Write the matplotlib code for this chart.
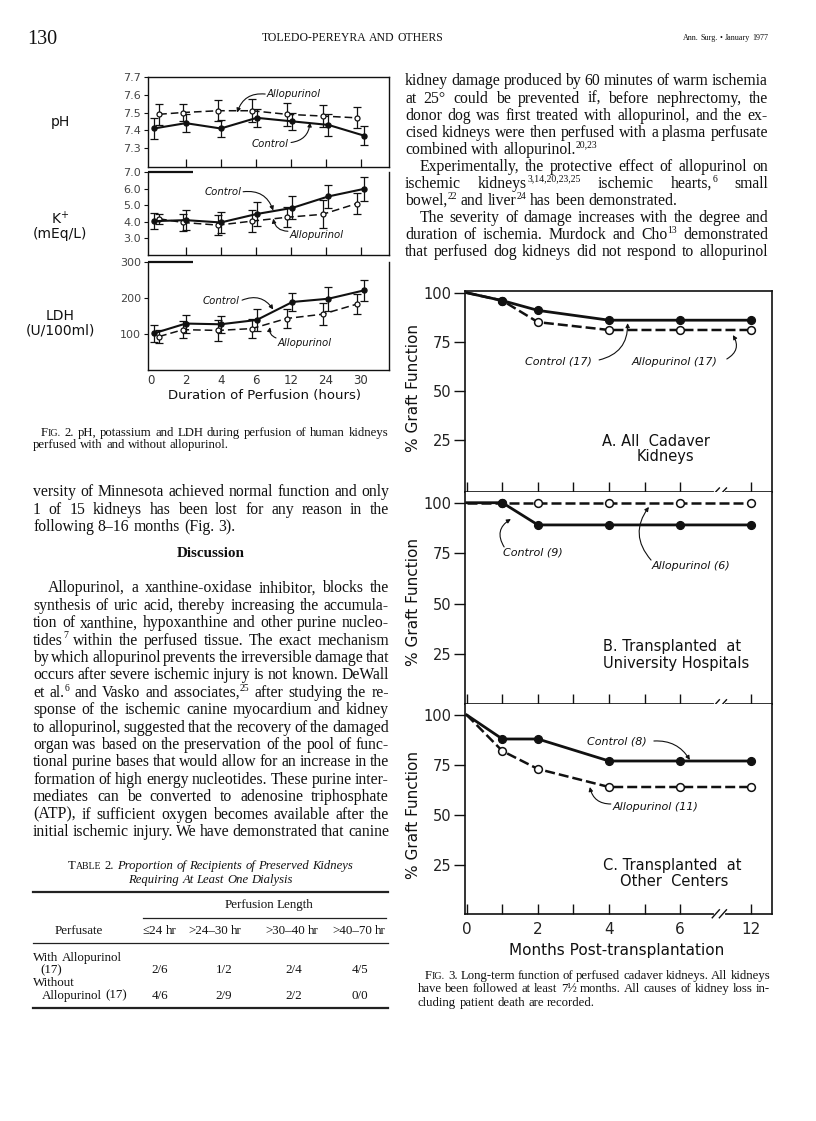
import matplotlib
matplotlib.use('Agg')
import matplotlib.pyplot as plt
from matplotlib.lines import Line2D
import numpy as np

# ---------------- data ----------------
HOURS = ['0', '2', '4', '6', '12', '24', '30']
PH_CTRL = [7.41, 7.44, 7.41, 7.47, 7.45, 7.43, 7.37]
PH_CTRL_ERR = [0.06, 0.05, 0.05, 0.05, 0.05, 0.06, 0.055]
PH_ALLO = [7.49, 7.50, 7.51, 7.51, 7.49, 7.48, 7.47]
PH_ALLO_ERR = [0.06, 0.05, 0.06, 0.065, 0.065, 0.06, 0.06]
K_CTRL = [4.04, 4.10, 3.96, 4.47, 4.84, 5.53, 5.98]
K_CTRL_ERR = [0.5, 0.6, 0.65, 0.7, 0.7, 0.7, 0.7]
K_ALLO = [4.18, 3.96, 3.80, 4.04, 4.27, 4.45, 5.10]
K_ALLO_ERR = [0.3, 0.5, 0.6, 0.65, 0.6, 0.85, 0.65]
LDH_CTRL = [102, 129, 127, 139, 189, 198, 221]
LDH_CTRL_ERR = [24, 25, 23, 31, 24, 33, 30]
LDH_ALLO = [93, 112, 110, 115, 143, 155, 183]
LDH_ALLO_ERR = [17, 24, 29, 27, 27, 30, 28]

MONTHS = [0, 1, 2, 4, 6, 12]
A_CTRL = [100, 96, 91, 86, 86, 86]
A_ALLO = [100, 96, 85, 81, 81, 81]
B_CTRL = [100, 100, 89, 89, 89, 89]
B_ALLO = [100, 100, 100, 100, 100, 100]
C_CTRL = [100, 88, 88, 77, 77, 77]
C_ALLO = [100, 82, 73, 64, 64, 64]
MONTH_LABELS = ['0', '', '2', '', '4', '', '6', '12']

TBL_COLS = ['≤24 hr', '>24–30 hr', '>30–40 hr', '>40–70 hr']
TBL_ROWS = [('With Allopurinol', '(17)'), ('Without', 'Allopurinol (17)')]
TBL_VALUES = [['2/6', '1/2', '2/4', '4/5'], ['4/6', '2/9', '2/2', '0/0']]

RIGHT_TEXT = [
    ("kidney damage produced by 60 minutes of warm ischemia", 0, True),
    ("at 25° could be prevented if, before nephrectomy, the", 0, True),
    ("donor dog was first treated with allopurinol, and the ex-", 0, True),
    ("cised kidneys were then perfused with a plasma perfusate", 0, True),
    ("combined with allopurinol.^20,23", 0, False),
    ("Experimentally, the protective effect of allopurinol on", 15, True),
    ("ischemic kidneys^3,14,20,23,25 ischemic hearts,^6 small", 0, True),
    ("bowel,^22 and liver^24 has been demonstrated.", 0, False),
    ("The severity of damage increases with the degree and", 15, True),
    ("duration of ischemia. Murdock and Cho^13 demonstrated", 0, True),
    ("that perfused dog kidneys did not respond to allopurinol", 0, True),
]
LEFT_TOP = [
    ("versity of Minnesota achieved normal function and only", 0, True),
    ("1 of 15 kidneys has been lost for any reason in the", 0, True),
    ("following 8–16 months (Fig. 3).", 0, False),
]
DISCUSSION = [
    ("Allopurinol, a xanthine-oxidase inhibitor, blocks the", 15, True),
    ("synthesis of uric acid, thereby increasing the accumula-", 0, True),
    ("tion of xanthine, hypoxanthine and other purine nucleo-", 0, True),
    ("tides^7 within the perfused tissue. The exact mechanism", 0, True),
    ("by which allopurinol prevents the irreversible damage that", 0, True),
    ("occurs after severe ischemic injury is not known. DeWall", 0, True),
    ("et al.^6 and Vasko and associates,^25 after studying the re-", 0, True),
    ("sponse of the ischemic canine myocardium and kidney", 0, True),
    ("to allopurinol, suggested that the recovery of the damaged", 0, True),
    ("organ was based on the preservation of the pool of func-", 0, True),
    ("tional purine bases that would allow for an increase in the", 0, True),
    ("formation of high energy nucleotides. These purine inter-", 0, True),
    ("mediates can be converted to adenosine triphosphate", 0, True),
    ("(ATP), if sufficient oxygen becomes available after the", 0, True),
    ("initial ischemic injury. We have demonstrated that canine", 0, True),
]
CAP2 = ["F~IG. 2. pH, potassium and LDH during perfusion of human kidneys",
        "perfused with and without allopurinol."]
CAP3 = ["F~IG. 3. Long-term function of perfused cadaver kidneys. All kidneys",
        "have been followed at least 7½ months. All causes of kidney loss in-",
        "cluding patient death are recorded."]

# ---------------- setup ----------------
W, H = 816, 1121
DPI = 100
fig = plt.figure(figsize=(W / DPI, H / DPI), dpi=DPI)
fig.patch.set_facecolor('white')
R = fig.canvas.get_renderer()

SERIF = ['Liberation Serif', 'DejaVu Serif']
SANS = ['DejaVu Sans']
INK = '#111111'


def fx(x):
    return x / W


def fy(y):
    return 1.0 - y / H


_wc = {}


def tw(s, size, style='normal', weight='normal', family=SERIF):
    key = (s, round(size, 3), style, weight, tuple(family))
    if key not in _wc:
        t = fig.text(0, 0, s, fontsize=size, style=style, weight=weight, family=family)
        _wc[key] = t.get_window_extent(R).width
        t.remove()
    return _wc[key]


def parse_token(tok, style):
    st = style
    if tok.startswith('|'):
        st = 'normal'
        tok = tok[1:]
    sup = None
    if '^' in tok:
        tok, sup = tok.split('^', 1)
    segs = []
    if '~' in tok:
        a, b = tok.split('~', 1)
        if a:
            segs.append((a, 1.0, 0.0, st))
        segs.append((b, 0.78, 0.0, st))
    else:
        segs.append((tok, 1.0, 0.0, st))
    if sup:
        segs.append((sup, 0.62, 0.40, st))
    return segs


def measure(text, size, style='normal', weight='normal', family=SERIF):
    words = [parse_token(t, style) for t in text.split(' ') if t]
    widths = [sum(tw(s, size * f, st, weight, family) for s, f, dy, st in w) for w in words]
    sp = tw('n n', size, style, weight, family) - tw('nn', size, style, weight, family)
    return words, widths, sp


def natural(text, size, style='normal', weight='normal', family=SERIF):
    words, widths, sp = measure(text, size, style, weight, family)
    return sum(widths) + sp * (len(words) - 1)


def fit(text, width, base=10.0, style='normal', weight='normal', family=SERIF):
    return base * width / natural(text, base, style, weight, family)


def line(text, x0, x1, y, size, justify=True, style='normal', weight='normal',
         family=SERIF, ha='left', color=INK):
    words, widths, sp = measure(text, size, style, weight, family)
    n = len(words)
    if justify and n > 1:
        need = sum(widths) + 0.55 * sp * (n - 1)
        if need > (x1 - x0):
            size = size * (x1 - x0) / need
            words, widths, sp = measure(text, size, style, weight, family)
    total = sum(widths)
    gap = (x1 - x0 - total) / (n - 1) if (justify and n > 1) else sp
    lw = total + gap * (n - 1)
    if ha == 'center':
        x = (x0 + x1) / 2 - lw / 2
    elif ha == 'right':
        x = x1 - lw
    else:
        x = x0
    em = size * DPI / 72
    base = y + 0.28 * em
    for w in words:
        for s, f, dy, st in w:
            fig.text(fx(x), fy(base - dy * em), s, fontsize=size * f, style=st,
                     weight=weight, family=family, va='baseline', ha='left', color=color)
            x += tw(s, size * f, st, weight, family)
        x += gap


def hrule(x0, x1, y, lw):
    fig.add_artist(Line2D([fx(x0), fx(x1)], [fy(y), fy(y)], transform=fig.transFigure,
                          color='#222222', lw=lw))


def add_ax(l, t, r, b):
    return fig.add_axes([fx(l), fy(b), (r - l) / W, (b - t) / H])


# ---------------- page header ----------------
line("130", 27, 60, 38, fit("130", 30, 12), justify=False)
line("TOLEDO-PEREYRA AND OTHERS", 262, 443, 38, fit("TOLEDO-PEREYRA AND OTHERS", 181, 9),
     justify=False, ha='center')
line("Ann. Surg. • January 1977", 600, 768, 38, fit("Ann. Surg. • January 1977", 85, 7),
     justify=False, ha='right')

# ---------------- body text ----------------
RCOL = (405, 768)
LCOL = (33, 389)
fits = []
for t, ind, j in RIGHT_TEXT:
    if j:
        fits.append(fit(t, RCOL[1] - RCOL[0] - ind, 10))
for t, ind, j in LEFT_TOP + DISCUSSION:
    if j:
        fits.append(fit(t, LCOL[1] - LCOL[0] - ind, 10))
BODY = float(np.percentile(fits, 35))

for i, (t, ind, j) in enumerate(RIGHT_TEXT):
    line(t, RCOL[0] + ind, RCOL[1], 81 + 17.1 * i, BODY, justify=j)
for i, (t, ind, j) in enumerate(LEFT_TOP):
    line(t, LCOL[0] + ind, LCOL[1], 492 + 17.4 * i, BODY, justify=j)
line("Discussion", 33, 389, 553, fit("Discussion", 68, 10, weight='bold'), justify=False,
     weight='bold', ha='center')
for i, (t, ind, j) in enumerate(DISCUSSION):
    line(t, LCOL[0] + ind, LCOL[1], 588 + 17.4 * i, BODY, justify=j)

# ---------------- captions ----------------
capfits = [fit(CAP2[0], 347, 8), fit(CAP3[0], 345, 8), fit(CAP3[1], 352, 8)]
CAP = float(np.median(capfits))
line(CAP2[0], 41, 388, 432, CAP)
line(CAP2[1], 33, 388, 444, CAP, justify=False)
line(CAP3[0], 425, 770, 975, CAP)
line(CAP3[1], 418, 770, 988, CAP)
line(CAP3[2], 418, 770, 1002, CAP, justify=False)

# ---------------- table ----------------
TITLE1 = "|T~ABLE |2. Proportion of Recipients of Preserved Kidneys"
TTS = fit(TITLE1, 283, 8.5, style='italic')
line(TITLE1, 33, 388, 865, TTS, justify=False, style='italic', ha='center')
line("Requiring At Least One Dialysis", 33, 388, 879, TTS, justify=False, style='italic', ha='center')
hrule(33, 388, 892, 1.6)
TS = fit("Allopurinol (17)", 85, 8.5)
line("Perfusion Length", 200, 338, 904, TS, justify=False, ha='center')
hrule(143, 386, 918, 0.9)
line("Perfusate", 40, 118, 930, TS, justify=False, ha='center')
HDR_X = [160, 215, 292, 359]
VAL_X = [160, 224, 294, 360]
for cx, c in zip(HDR_X, TBL_COLS):
    line(c, cx - 40, cx + 40, 930, TS, justify=False, ha='center')
hrule(33, 388, 943, 0.9)
for r, ((l1, l2), vals) in enumerate(zip(TBL_ROWS, TBL_VALUES)):
    y1 = 957 + 25.5 * r
    line(l1, 33, 200, y1, TS, justify=False)
    line(l2, 40 if r == 0 else 42, 200, y1 + 12.5, TS, justify=False)
    for cx, v in zip(VAL_X, vals):
        line(v, cx - 20, cx + 20, y1 + 12.5, TS, justify=False, ha='center')
hrule(33, 388, 1008, 1.6)

# ---------------- Fig. 2 ----------------
CTRL_DODGE = [0.09, 0.0, 0.0, 0.03, 0.05, 0.08, 0.09]
ALLO_DODGE = [0.24, -0.08, -0.07, -0.11, -0.12, -0.09, -0.11]


def fig2_panel(ax, ylim, yticks, ylabels, ctrl, cerr, allo, aerr, bottom_ticks=True):
    xi = np.arange(len(HOURS))
    xa = xi + np.array(ALLO_DODGE)
    xc = xi + np.array(CTRL_DODGE)
    ax.errorbar(xa, allo, yerr=aerr, fmt='none', ecolor=INK, elinewidth=0.9,
                capsize=2.6, capthick=0.9, zorder=2)
    ax.errorbar(xc, ctrl, yerr=cerr, fmt='none', ecolor=INK, elinewidth=0.9,
                capsize=2.6, capthick=0.9, zorder=2)
    ax.plot(xa, allo, ls=(0, (5, 2.6)), lw=1.1, color=INK, marker='o', ms=3.6,
            mfc='white', mec=INK, mew=0.9, zorder=3)
    ax.plot(xc, ctrl, ls='-', lw=1.5, color=INK, marker='o', ms=3.6,
            mfc=INK, mec=INK, zorder=4)
    ax.set_xlim(-0.08, 6.81)
    ax.set_ylim(ylim)
    ax.set_yticks(yticks)
    ax.set_yticklabels(ylabels)
    ax.tick_params(axis='y', direction='out', length=3, width=0.8, pad=2,
                   labelsize=8, labelcolor='#444444', color=INK)
    for s in ax.spines.values():
        s.set_linewidth(1.0)
        s.set_color(INK)
    if bottom_ticks:
        ax.set_xticks(range(1, len(HOURS)))
        ax.tick_params(axis='x', direction='in', length=6, width=0.9, labelbottom=False, color=INK)
    else:
        ax.set_xticks(range(len(HOURS)))
        ax.set_xticklabels(HOURS)
        ax.tick_params(axis='x', length=0, pad=3, labelsize=8.5, labelcolor='#333333')


def note(ax, label, xt, yt, ha, S, E, rad, size):
    ax.text(xt, yt, label, ha=ha, va='center', style='italic', fontsize=size,
            family=SANS, color=INK)
    ax.annotate('', xy=E, xytext=S, annotation_clip=False,
                arrowprops=dict(arrowstyle='-|>', connectionstyle=f'arc3,rad={rad}',
                                lw=0.8, color=INK, shrinkA=0, shrinkB=0, mutation_scale=6))


ax_ph = add_ax(148, 77, 389, 167)
ax_k = add_ax(148, 172, 389, 255)
ax_ldh = add_ax(148, 262, 389, 370)
fig2_panel(ax_ph, (7.193, 7.7), [7.3, 7.4, 7.5, 7.6, 7.7], ['7.3', '7.4', '7.5', '7.6', '7.7'],
           PH_CTRL, PH_CTRL_ERR, PH_ALLO, PH_ALLO_ERR)
fig2_panel(ax_k, (2.0, 7.0), [3, 4, 5, 6, 7], ['3.0', '4.0', '5.0', '6.0', '7.0'],
           K_CTRL, K_CTRL_ERR, K_ALLO, K_ALLO_ERR)
fig2_panel(ax_ldh, (0, 300), [100, 200, 300], ['100', '200', '300'],
           LDH_CTRL, LDH_CTRL_ERR, LDH_ALLO, LDH_ALLO_ERR, bottom_ticks=False)
for ax, top in ((ax_k, 7.0), (ax_ldh, 300)):
    ax.spines['top'].set_visible(False)
    ax.plot([-0.08, 1.21], [top, top], color=INK, lw=1.6, clip_on=False, solid_capstyle='butt')

note(ax_ph, 'Allopurinol', 3.32, 7.607, 'left', (3.27, 7.604), (2.47, 7.50), 0.4, 7.3)
note(ax_ph, 'Control', 3.95, 7.325, 'right', (4.01, 7.331), (4.55, 7.444), 0.4, 7.3)
note(ax_k, 'Control', 2.59, 5.78, 'right', (2.64, 5.81), (3.50, 4.68), -0.4, 7.3)
note(ax_k, 'Allopurinol', 3.98, 3.19, 'left', (3.92, 3.43), (3.50, 4.19), -0.4, 7.3)
note(ax_ldh, 'Control', 2.55, 191, 'right', (2.61, 194), (3.50, 168), -0.4, 7.3)
note(ax_ldh, 'Allopurinol', 3.61, 75, 'left', (3.58, 89), (3.41, 119), -0.4, 7.3)

for txt, y in (('pH', 122), ('K$^{+}$', 219), ('(mEq/L)', 234), ('LDH', 316), ('(U/100ml)', 330)):
    fig.text(fx(60), fy(y), txt, ha='center', va='center', fontsize=10, family=SANS, color=INK)
fig.text(fx(264), fy(396), 'Duration of Perfusion (hours)', ha='center', va='center',
         fontsize=9.5, family=SANS, color=INK)

# ---------------- Fig. 3 ----------------


def month_pos(m):
    return m if m <= 6 else 8


def fig3_panel(ax, ylim, ctrl, allo, labels):
    xp = [month_pos(m) for m in MONTHS]
    mk = list(range(1, len(xp)))
    ax.plot(xp, allo, ls=(0, (4, 1.6)), lw=1.8, color=INK, marker='o', ms=5.6,
            mfc='white', mec=INK, mew=1.1, markevery=mk, clip_on=False, zorder=3)
    ax.plot(xp, ctrl, ls='-', lw=2.0, color=INK, marker='o', ms=5.6,
            mfc=INK, mec=INK, markevery=mk, clip_on=False, zorder=4)
    ax.set_xlim(-0.05, 8.58)
    ax.set_ylim(ylim)
    ax.set_yticks([25, 50, 75, 100])
    ax.set_yticklabels(['25', '50', '75', '100'])
    ax.tick_params(axis='y', direction='out', length=8, width=1.0, pad=2,
                   labelsize=10.5, labelcolor='#222222', color=INK)
    ax.set_xticks([0, 1, 2, 3, 4, 5, 6, 8])
    ax.set_xticklabels(MONTH_LABELS if labels else [''] * 8)
    ax.tick_params(axis='x', direction='in', length=7, width=1.0, pad=6,
                   labelsize=11, labelcolor='#222222', color=INK)
    for s in ax.spines.values():
        s.set_linewidth(1.2)
        s.set_color(INK)
    tr = ax.get_xaxis_transform()
    ax.plot([7.0, 7.2], [0, 0], color='white', lw=3, transform=tr, clip_on=False, zorder=5)
    for x0 in (7.0, 7.2):
        ax.plot([x0 - 0.1, x0 + 0.1], [-0.018, 0.02], color=INK, lw=1.0, transform=tr,
                clip_on=False, zorder=6)


ax_a = add_ax(465, 291, 772, 492)
ax_b = add_ax(465, 492, 772, 704)
ax_c = add_ax(465, 704, 772, 914)
fig3_panel(ax_a, (-1.7, 100.9), A_CTRL, A_ALLO, False)
fig3_panel(ax_b, (0.35, 105.3), B_CTRL, B_ALLO, False)
fig3_panel(ax_c, (0.5, 105.5), C_CTRL, C_ALLO, True)
ax_b.spines['top'].set_visible(False)
ax_c.spines['top'].set_visible(False)

note(ax_a, 'Control (17)', 1.64, 64.8, 'left', (3.72, 65.7), (4.52, 84.5), 0.4, 8)
note(ax_a, 'Allopurinol (17)', 4.63, 64.8, 'left', (7.31, 66.2), (7.48, 78.4), 0.5, 8)
note(ax_b, 'Control (9)', 1.02, 75.2, 'left', (1.05, 78.1), (1.24, 91.9), -0.5, 8)
note(ax_b, 'Allopurinol (6)', 5.2, 68.7, 'left', (5.18, 71.6), (5.12, 97.9), -0.4, 8)
note(ax_c, 'Control (8)', 3.37, 86.7, 'left', (5.26, 87.0), (6.27, 77.5), -0.3, 8)
note(ax_c, 'Allopurinol (11)', 4.11, 54.0, 'left', (4.05, 55.5), (3.46, 64.0), -0.4, 8)

for ax, l1, x1, l2, x2, y1, y2 in (
        (ax_a, 'A. All  Cadaver', 3.79, 'Kidneys', 4.78, 24.3, 16.3),
        (ax_b, 'B. Transplanted  at', 3.82, 'University Hospitals', 3.82, 28.7, 20.6),
        (ax_c, 'C. Transplanted  at', 3.82, 'Other  Centers', 4.31, 24.7, 16.5)):
    ax.text(x1, y1, l1, ha='left', va='center', fontsize=10.5, family=SANS, color=INK)
    ax.text(x2, y2, l2, ha='left', va='center', fontsize=10.5, family=SANS, color=INK)

for yc in (388, 602, 815):
    fig.text(fx(413), fy(yc), '% Graft Function', rotation=90, ha='center', va='center',
             fontsize=11, family=SANS, color=INK)
fig.text(fx(617), fy(950), 'Months Post-transplantation', ha='center', va='center',
         fontsize=11, family=SANS, color=INK)

fig.savefig('out.png', dpi=DPI, facecolor='white')
